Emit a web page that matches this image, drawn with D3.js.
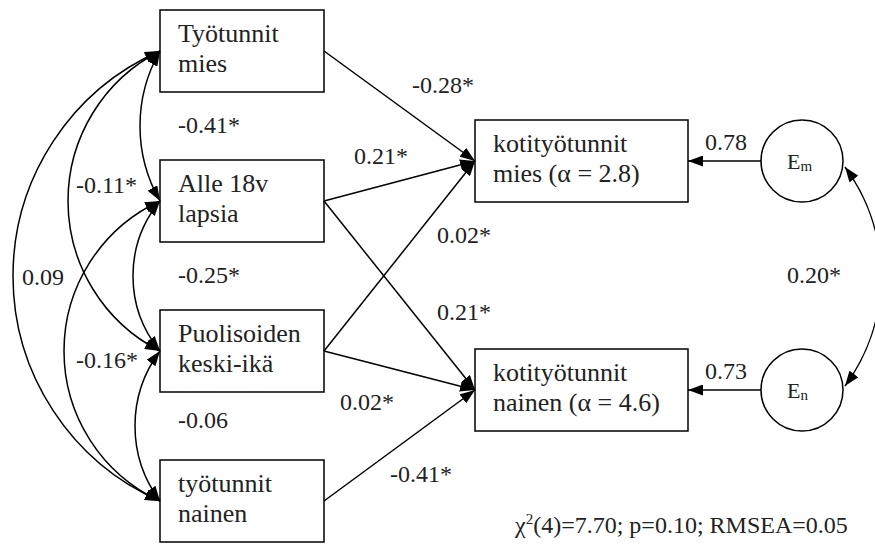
<!DOCTYPE html>
<html>
<head>
<meta charset="utf-8">
<script src="https://cdnjs.cloudflare.com/ajax/libs/d3/7.8.5/d3.min.js"></script>
<style>
    body { margin: 0; background: #fff; }
</style>
</head>
<body>
<svg id="chart" width="875" height="546"></svg>
<script>
// observed variables (box texts, one entry per line)
var predictorLines = [["Työtunnit", "mies"], ["Alle 18v", "lapsia"], ["Puolisoiden", "keski-ikä"], ["työtunnit", "nainen"]];
var outcomeLines = [["kotityötunnit", "mies (α = 2.8)"], ["kotityötunnit", "nainen (α = 4.6)"]];

// regression paths predictor -> outcome
var pathFrom = [0, 1, 2, 1, 2, 3];
var pathTo = [0, 0, 0, 1, 1, 1];
var pathValues = ["-0.28*", "0.21*", "0.02*", "0.21*", "0.02*", "-0.41*"];

// correlations between predictors
var covA = [0, 1, 2, 0, 1, 0];
var covB = [1, 2, 3, 2, 3, 3];
var covValues = ["-0.41*", "-0.25*", "-0.06", "-0.11*", "-0.16*", "0.09"];

// error terms
var errorSubs = ["m", "n"];
var errorValues = ["0.78", "0.73"];
var errorCov = "0.20*";

var fitText = ["χ", "2", "(4)=7.70; p=0.10; RMSEA=0.05"];

// layout (label anchors: x start, baseline)
var pathLabelPos = [[412, 93], [354, 164], [437, 243], [437, 320], [340, 410], [390, 482]];
var covLabelPos = [[178, 133], [178, 283], [178, 428], [76, 193], [76, 368], [22, 285]];
var covBulge = [20, 27, 25, 92, 96, 147];
var errorLabelPos = [[705, 150], [705, 379]];

var svg = d3.select("#chart")
    .attr("font-family", "'Liberation Serif', 'Times New Roman', Times, 'DejaVu Serif', serif");

var predX = 160, predW = 164, boxH = 82;
var outX = 475, outW = 213;
var errCx = 802, errR = 41;
var ink = "#222";

var yPred = d3.scalePoint().domain(d3.range(predictorLines.length)).range([51, 501]);
var yOut = d3.scalePoint().domain(d3.range(outcomeLines.length)).range([161, 390]);

var defs = svg.append("defs");
defs.append("marker")
    .attr("id", "arrow")
    .attr("viewBox", "0 -5.5 15 11")
    .attr("refX", 15)
    .attr("refY", 0)
    .attr("markerUnits", "userSpaceOnUse")
    .attr("markerWidth", 15)
    .attr("markerHeight", 11)
    .attr("orient", "auto-start-reverse")
    .append("path")
    .attr("d", "M0,-5.5L15,0L0,5.5Z")
    .attr("fill", "#000");

function lineStyle(sel) {
    return sel.attr("fill", "none").attr("stroke", "#000").attr("stroke-width", 1.5);
}

// arc between two points on the same vertical, bulging left (sweep 0) or right (sweep 1)
function arcPath(x, y1, y2, s, sweep) {
    var c = (y2 - y1) / 2;
    var r = (s * s + c * c) / (2 * s);
    return "M" + x + "," + y1 + "A" + r + "," + r + " 0 0 " + sweep + " " + x + "," + y2;
}

// predictor covariances
svg.selectAll(".cov")
    .data(covValues)
    .enter()
    .append("path")
    .classed("cov", true)
    .attr("d", function (d, i) { return arcPath(predX, yPred(covA[i]), yPred(covB[i]), covBulge[i], 0); })
    .call(lineStyle)
    .attr("marker-start", "url(#arrow)")
    .attr("marker-end", "url(#arrow)");

svg.selectAll(".covlabel")
    .data(covValues)
    .enter()
    .append("text")
    .attr("x", function (d, i) { return covLabelPos[i][0]; })
    .attr("y", function (d, i) { return covLabelPos[i][1]; })
    .attr("font-size", 24)
    .attr("fill", ink)
    .text(function (d) { return d; });

// regression paths
svg.selectAll(".path")
    .data(pathValues)
    .enter()
    .append("line")
    .attr("x1", predX + predW)
    .attr("y1", function (d, i) { return yPred(pathFrom[i]); })
    .attr("x2", outX)
    .attr("y2", function (d, i) { return yOut(pathTo[i]); })
    .call(lineStyle)
    .attr("marker-end", "url(#arrow)");

svg.selectAll(".pathlabel")
    .data(pathValues)
    .enter()
    .append("text")
    .attr("x", function (d, i) { return pathLabelPos[i][0]; })
    .attr("y", function (d, i) { return pathLabelPos[i][1]; })
    .attr("font-size", 24)
    .attr("fill", ink)
    .text(function (d) { return d; });

// boxes
function drawBoxes(lines, x, w, yScale) {
    var g = svg.append("g")
        .selectAll("g")
        .data(lines)
        .enter()
        .append("g")
        .attr("transform", function (d, i) { return "translate(" + x + "," + (yScale(i) - boxH / 2) + ")"; });

    g.append("rect")
        .attr("width", w)
        .attr("height", boxH)
        .attr("fill", "#fff")
        .call(lineStyle);

    g.append("text")
        .attr("x", 18)
        .attr("y", 32)
        .attr("font-size", 26)
        .attr("fill", ink)
        .text(function (d) { return d[0]; });

    g.append("text")
        .attr("x", 18)
        .attr("y", 61.5)
        .attr("font-size", 26)
        .attr("fill", ink)
        .text(function (d) { return d[1]; });
}

drawBoxes(predictorLines, predX, predW, yPred);
drawBoxes(outcomeLines, outX, outW, yOut);

// error terms
svg.selectAll(".errline")
    .data(errorSubs)
    .enter()
    .append("line")
    .attr("x1", errCx - errR)
    .attr("y1", function (d, i) { return yOut(i); })
    .attr("x2", outX + outW)
    .attr("y2", function (d, i) { return yOut(i); })
    .call(lineStyle)
    .attr("marker-end", "url(#arrow)");

svg.selectAll(".errcircle")
    .data(errorSubs)
    .enter()
    .append("circle")
    .attr("cx", errCx)
    .attr("cy", function (d, i) { return yOut(i); })
    .attr("r", errR)
    .attr("fill", "#fff")
    .call(lineStyle);

var errText = svg.selectAll(".errtext")
    .data(errorSubs)
    .enter()
    .append("text")
    .attr("x", errCx - 15)
    .attr("y", function (d, i) { return yOut(i) + 8; })
    .attr("font-size", 22)
    .attr("fill", ink);
errText.append("tspan").text("E");
errText.append("tspan")
    .attr("font-size", 15)
    .attr("dy", 2)
    .text(function (d) { return d; });

svg.selectAll(".errlabel")
    .data(errorValues)
    .enter()
    .append("text")
    .attr("x", function (d, i) { return errorLabelPos[i][0]; })
    .attr("y", function (d, i) { return errorLabelPos[i][1]; })
    .attr("font-size", 24)
    .attr("fill", ink)
    .text(function (d) { return d; });

// error covariance, bulging right
svg.append("path")
    .attr("d", arcPath(errCx + errR + 2, yOut(0) + 6, yOut(1) - 4, 36, 1))
    .call(lineStyle)
    .attr("marker-start", "url(#arrow)")
    .attr("marker-end", "url(#arrow)");

svg.append("text")
    .attr("x", 787)
    .attr("y", 283)
    .attr("font-size", 24)
    .attr("fill", ink)
    .text(errorCov);

// fit statistics
var fit = svg.append("text")
    .attr("x", 515)
    .attr("y", 533)
    .attr("font-size", 24)
    .attr("fill", ink);
fit.append("tspan").text(fitText[0]);
fit.append("tspan").attr("font-size", 15).attr("dy", -9).text(fitText[1]);
fit.append("tspan").attr("dy", 9).text(fitText[2]);
</script>
</body>
</html>
